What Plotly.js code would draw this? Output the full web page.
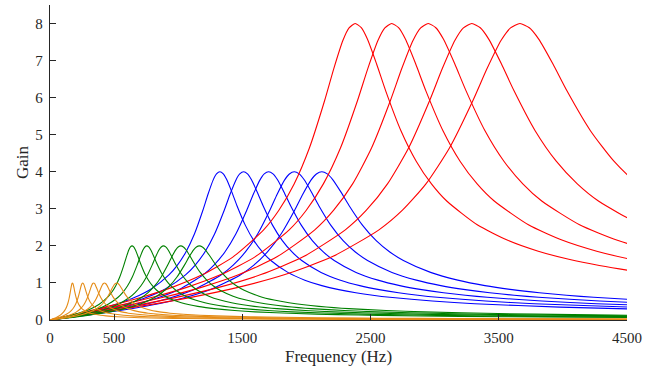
<!DOCTYPE html>
<html>
<head>
<meta charset="utf-8">
<script src="https://cdn.plot.ly/plotly-3.0.1.min.js"></script>
<style>html,body{margin:0;padding:0;background:#fff;}#chart{width:654px;height:366px;}</style>
</head>
<body>
<div id="chart"></div>
<script>
// Gain values shared by the five curves of each colour group
const orangeGain = [0, 0.0235, 0.0484, 0.0764, 0.1101, 0.1532, 0.2130, 0.3041, 0.3703, 0.4591, 0.5802, 0.7404, 0.8481, 0.9435, 0.9852, 1, 0.9858, 0.9475, 0.8642, 0.7729, 0.6384, 0.5356, 0.4591, 0.4013, 0.3212, 0.2688, 0.2320, 0.2048, 0.1837, 0.1669, 0.1532, 0.1277, 0.1101, 0.0869, 0.0722, 0.0619, 0.0484, 0.0398, 0.0295, 0.0235, 0.0180, 0.0137, 0.0106, 0.0086];
const greenGain = [0, 0.047, 0.0968, 0.1529, 0.2201, 0.3064, 0.4260, 0.6082, 0.7407, 0.9182, 1.1604, 1.4808, 1.6962, 1.8870, 1.9705, 2, 1.9716, 1.8950, 1.7283, 1.5458, 1.2767, 1.0712, 0.9182, 0.8026, 0.6424, 0.5376, 0.4640, 0.4095, 0.3674, 0.3338, 0.3064, 0.2555, 0.2201, 0.1738, 0.1443, 0.1238, 0.0968, 0.0797, 0.0590];
const blueGain = [0, 0.0939, 0.1936, 0.3058, 0.4403, 0.6128, 0.8521, 1.2163, 1.4813, 1.8364, 2.3207, 2.9617, 3.3925, 3.7741, 3.9410, 4, 3.9433, 3.7900, 3.4567, 3.0917, 2.5534, 2.1424, 1.8364, 1.6053, 1.2847, 1.0752, 0.9280, 0.8190, 0.7348, 0.6677, 0.6128, 0.5110, 0.4403, 0.3475, 0.2887];
const redGain = [0, 0.1879, 0.3871, 0.6115, 0.8806, 1.2257, 1.7042, 2.4326, 2.9626, 3.6729, 4.6414, 5.9234, 6.7850, 7.5482, 7.8819, 8, 7.8866, 7.5801, 6.9134, 6.1834, 5.1068, 4.2848, 3.6729, 3.2106, 2.5694, 2.1504, 1.8561, 1.6380, 1.4696, 1.3354, 1.2257];

// Frequencies (Hz) of the sample points of each curve
const orangeFreq1 = [0, 17.5, 35, 52.5, 70, 87.5, 105, 122.5, 131.3, 140, 148.8, 157.5, 162.8, 168, 171.5, 175, 178.5, 182, 187.3, 192.5, 201.3, 210, 218.8, 227.5, 245, 262.5, 280, 297.5, 315, 332.5, 350, 393.8, 437.5, 525, 612.5, 700, 875, 1050, 1400, 1750, 2275, 2975, 3850, 4725];
const orangeFreq2 = [0, 25.5, 51, 76.5, 102, 127.5, 153, 178.5, 191.3, 204, 216.8, 229.5, 237.2, 244.8, 249.9, 255, 260.1, 265.2, 272.9, 280.5, 293.3, 306, 318.8, 331.5, 357, 382.5, 408, 433.5, 459, 484.5, 510, 573.8, 637.5, 765, 892.5, 1020, 1275, 1530, 2040, 2550, 3315, 4335, 5610, 6885];
const orangeFreq3 = [0, 34, 68, 102, 136, 170, 204, 238, 255, 272, 289, 306, 316.2, 326.4, 333.2, 340, 346.8, 353.6, 363.8, 374, 391, 408, 425, 442, 476, 510, 544, 578, 612, 646, 680, 765, 850, 1020, 1190, 1360, 1700, 2040, 2720, 3400, 4420, 5780, 7480, 9180];
const orangeFreq4 = [0, 42.5, 85, 127.5, 170, 212.5, 255, 297.5, 318.8, 340, 361.3, 382.5, 395.3, 408, 416.5, 425, 433.5, 442, 454.8, 467.5, 488.8, 510, 531.3, 552.5, 595, 637.5, 680, 722.5, 765, 807.5, 850, 956.3, 1062.5, 1275, 1487.5, 1700, 2125, 2550, 3400, 4250, 5525, 7225, 9350, 11475];
const orangeFreq5 = [0, 52, 104, 156, 208, 260, 312, 364, 390, 416, 442, 468, 483.6, 499.2, 509.6, 520, 530.4, 540.8, 556.4, 572, 598, 624, 650, 676, 728, 780, 832, 884, 936, 988, 1040, 1170, 1300, 1560, 1820, 2080, 2600, 3120, 4160, 5200, 6760, 8840, 11440, 14040];

const greenFreq1 = [0, 64, 128, 192, 256, 320, 384, 448, 480, 512, 544, 576, 595.2, 614.4, 627.2, 640, 652.8, 665.6, 684.8, 704, 736, 768, 800, 832, 896, 960, 1024, 1088, 1152, 1216, 1280, 1440, 1600, 1920, 2240, 2560, 3200, 3840, 5120];
const greenFreq2 = [0, 75.5, 151, 226.5, 302, 377.5, 453, 528.5, 566.3, 604, 641.8, 679.5, 702.2, 724.8, 739.9, 755, 770.1, 785.2, 807.9, 830.5, 868.3, 906, 943.8, 981.5, 1057, 1132.5, 1208, 1283.5, 1359, 1434.5, 1510, 1698.8, 1887.5, 2265, 2642.5, 3020, 3775, 4530, 6040];
const greenFreq3 = [0, 88.5, 177, 265.5, 354, 442.5, 531, 619.5, 663.8, 708, 752.3, 796.5, 823.1, 849.6, 867.3, 885, 902.7, 920.4, 947, 973.5, 1017.8, 1062, 1106.3, 1150.5, 1239, 1327.5, 1416, 1504.5, 1593, 1681.5, 1770, 1991.3, 2212.5, 2655, 3097.5, 3540, 4425, 5310, 7080];
const greenFreq4 = [0, 102, 204, 306, 408, 510, 612, 714, 765, 816, 867, 918, 948.6, 979.2, 999.6, 1020, 1040.4, 1060.8, 1091.4, 1122, 1173, 1224, 1275, 1326, 1428, 1530, 1632, 1734, 1836, 1938, 2040, 2295, 2550, 3060, 3570, 4080, 5100, 6120, 8160];
const greenFreq5 = [0, 116.5, 233, 349.5, 466, 582.5, 699, 815.5, 873.8, 932, 990.3, 1048.5, 1083.5, 1118.4, 1141.7, 1165, 1188.3, 1211.6, 1246.6, 1281.5, 1339.8, 1398, 1456.3, 1514.5, 1631, 1747.5, 1864, 1980.5, 2097, 2213.5, 2330, 2621.3, 2912.5, 3495, 4077.5, 4660, 5825, 6990, 9320];

const blueFreq1 = [0, 132.5, 265, 397.5, 530, 662.5, 795, 927.5, 993.8, 1060, 1126.3, 1192.5, 1232.3, 1272, 1298.5, 1325, 1351.5, 1378, 1417.8, 1457.5, 1523.8, 1590, 1656.3, 1722.5, 1855, 1987.5, 2120, 2252.5, 2385, 2517.5, 2650, 2981.3, 3312.5, 3975, 4637.5];
const blueFreq2 = [0, 151, 302, 453, 604, 755, 906, 1057, 1132.5, 1208, 1283.5, 1359, 1404.3, 1449.6, 1479.8, 1510, 1540.2, 1570.4, 1615.7, 1661, 1736.5, 1812, 1887.5, 1963, 2114, 2265, 2416, 2567, 2718, 2869, 3020, 3397.5, 3775, 4530, 5285];
const blueFreq3 = [0, 170.5, 341, 511.5, 682, 852.5, 1023, 1193.5, 1278.8, 1364, 1449.3, 1534.5, 1585.7, 1636.8, 1670.9, 1705, 1739.1, 1773.2, 1824.4, 1875.5, 1960.8, 2046, 2131.3, 2216.5, 2387, 2557.5, 2728, 2898.5, 3069, 3239.5, 3410, 3836.3, 4262.5, 5115, 5967.5];
const blueFreq4 = [0, 190.5, 381, 571.5, 762, 952.5, 1143, 1333.5, 1428.8, 1524, 1619.3, 1714.5, 1771.7, 1828.8, 1866.9, 1905, 1943.1, 1981.2, 2038.4, 2095.5, 2190.8, 2286, 2381.3, 2476.5, 2667, 2857.5, 3048, 3238.5, 3429, 3619.5, 3810, 4286.3, 4762.5, 5715, 6667.5];
const blueFreq5 = [0, 212, 424, 636, 848, 1060, 1272, 1484, 1590, 1696, 1802, 1908, 1971.6, 2035.2, 2077.6, 2120, 2162.4, 2204.8, 2268.4, 2332, 2438, 2544, 2650, 2756, 2968, 3180, 3392, 3604, 3816, 4028, 4240, 4770, 5300, 6360, 7420];

const redFreq1 = [0, 238, 476, 714, 952, 1190, 1428, 1666, 1785, 1904, 2023, 2142, 2213.4, 2284.8, 2332.4, 2380, 2427.6, 2475.2, 2546.6, 2618, 2737, 2856, 2975, 3094, 3332, 3570, 3808, 4046, 4284, 4522, 4760];
const redFreq2 = [0, 266.5, 533, 799.5, 1066, 1332.5, 1599, 1865.5, 1998.8, 2132, 2265.3, 2398.5, 2478.5, 2558.4, 2611.7, 2665, 2718.3, 2771.6, 2851.6, 2931.5, 3064.8, 3198, 3331.3, 3464.5, 3731, 3997.5, 4264, 4530.5, 4797, 5063.5, 5330];
const redFreq3 = [0, 295, 590, 885, 1180, 1475, 1770, 2065, 2212.5, 2360, 2507.5, 2655, 2743.5, 2832, 2891, 2950, 3009, 3068, 3156.5, 3245, 3392.5, 3540, 3687.5, 3835, 4130, 4425, 4720, 5015, 5310, 5605, 5900];
const redFreq4 = [0, 329, 658, 987, 1316, 1645, 1974, 2303, 2467.5, 2632, 2796.5, 2961, 3059.7, 3158.4, 3224.2, 3290, 3355.8, 3421.6, 3520.3, 3619, 3783.5, 3948, 4112.5, 4277, 4606, 4935, 5264, 5593, 5922, 6251, 6580];
const redFreq5 = [0, 366.5, 733, 1099.5, 1466, 1832.5, 2199, 2565.5, 2748.8, 2932, 3115.3, 3298.5, 3408.5, 3518.4, 3591.7, 3665, 3738.3, 3811.6, 3921.6, 4031.5, 4214.8, 4398, 4581.3, 4764.5, 5131, 5497.5, 5864, 6230.5, 6597, 6963.5, 7330];

const xTickVals = [0, 500, 1500, 2500, 3500, 4500];
const yTickVals = [0, 1, 2, 3, 4, 5, 6, 7, 8];

const groups = [
  {color: '#0000ff', gain: blueGain, freqs: [blueFreq1, blueFreq2, blueFreq3, blueFreq4, blueFreq5]},
  {color: '#ff0000', gain: redGain, freqs: [redFreq1, redFreq2, redFreq3, redFreq4, redFreq5]},
  {color: '#008000', gain: greenGain, freqs: [greenFreq1, greenFreq2, greenFreq3, greenFreq4, greenFreq5]},
  {color: '#e58c17', gain: orangeGain, freqs: [orangeFreq1, orangeFreq2, orangeFreq3, orangeFreq4, orangeFreq5]}
];

const traces = [];
groups.forEach(g => {
  g.freqs.forEach(f => {
    traces.push({
      type: 'scatter', mode: 'lines', x: f, y: g.gain,
      line: {color: g.color, width: 1.1, shape: 'spline', smoothing: 0.6},
      hoverinfo: 'skip', showlegend: false
    });
  });
});

const font = {family: '"Liberation Serif", "Times New Roman", serif', color: '#262626'};
const layout = {
  width: 654, height: 366,
  margin: {l: 50, r: 27, t: 5, b: 46},
  paper_bgcolor: '#ffffff', plot_bgcolor: '#ffffff',
  showlegend: false,
  font: Object.assign({size: 14}, font),
  xaxis: {
    range: [0, 4500], tickvals: xTickVals, ticktext: xTickVals.map(String),
    ticks: 'inside', ticklen: 6, tickcolor: '#262626', tickwidth: 1,
    showline: true, linecolor: '#262626', linewidth: 1.3,
    showgrid: false, zeroline: false, ticklabelstandoff: 4,
    tickfont: Object.assign({size: 15}, font),
    title: {text: 'Frequency (Hz)', font: Object.assign({size: 17}, font), standoff: 8}
  },
  yaxis: {
    range: [0, 8.5], tickvals: yTickVals, ticktext: yTickVals.map(String),
    ticks: 'inside', ticklen: 6, tickcolor: '#262626', tickwidth: 1,
    showline: true, linecolor: '#262626', linewidth: 1.3,
    showgrid: false, zeroline: false, ticklabelstandoff: 3,
    tickfont: Object.assign({size: 15}, font),
    title: {text: 'Gain', font: Object.assign({size: 17}, font), standoff: 2}
  }
};

Plotly.newPlot('chart', traces, layout, {displayModeBar: false, staticPlot: true});
</script>
</body>
</html>
